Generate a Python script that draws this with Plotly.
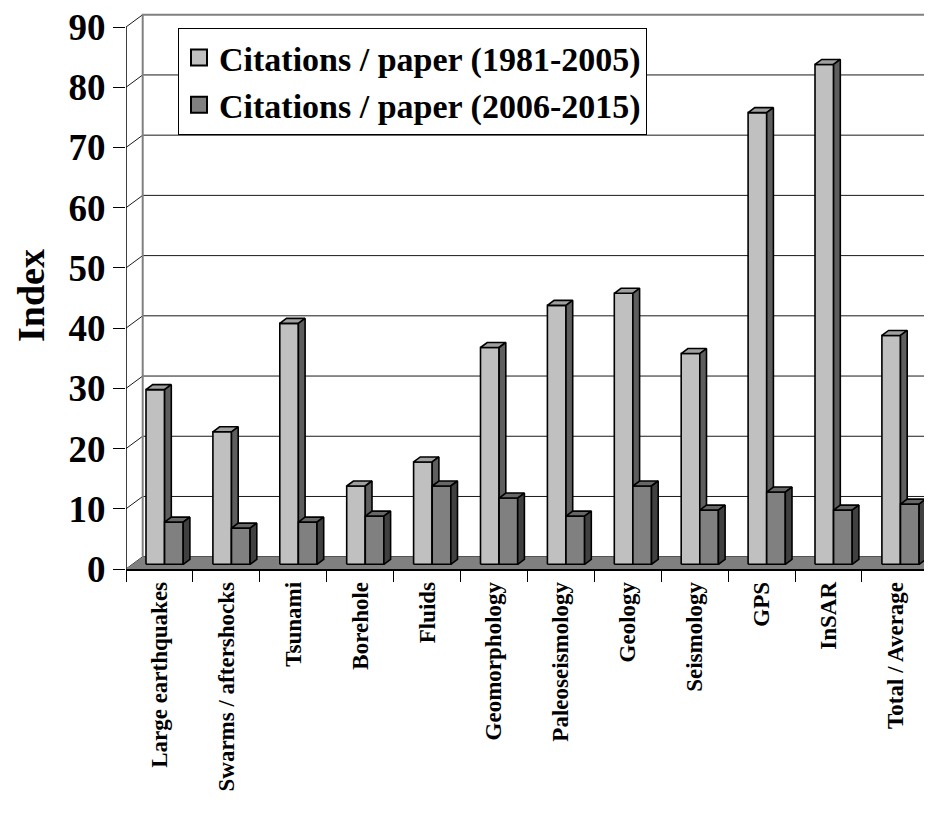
import plotly.graph_objects as go

categories = ["Large earthquakes", "Swarms / aftershocks", "Tsunami", "Borehole",
              "Fluids", "Geomorphology", "Paleoseismology", "Geology",
              "Seismology", "GPS", "InSAR", "Total / Average"]
cites_1981_2005 = [29, 22, 40, 13, 17, 36, 43, 45, 35, 75, 83, 38]
cites_2006_2015 = [7, 6, 7, 8, 13, 11, 8, 13, 9, 12, 9, 10]
series_names = ["Citations / paper (1981-2005)", "Citations / paper (2006-2015)"]
y_ticks = [0, 10, 20, 30, 40, 50, 60, 70, 80, 90]

# page body has an 8px margin; figure sized so page == window
OFF = 8
FIG_W, FIG_H = 932 - 2 * OFF, 821 - 2 * OFF
L = 126 - OFF                 # left edge of plot area (front axis)
T = 13 - OFF                  # top of plot area
BOT = 569 - OFF               # front floor line
PLOT_W = FIG_W - L
PLOT_H = BOT - T

# ---- geometry (pseudo-3D projection, in axis units) ----
PX_X = 66.9          # px per category
PX_Y = 6.022         # px per value unit
XMAX = PLOT_W / PX_X
YMAX = PLOT_H / PX_Y
WDX, WDY = 16.7 / PX_X, 12.3 / PX_Y      # back-wall depth offset
BDX, BDY = 6.7 / PX_X, 5.0 / PX_Y        # bar depth offset
BASE = 4.7 / PX_Y                        # bar front baseline
BAR_W = 18.6 / PX_X
LIGHT_OFF = 20.0 / PX_X

FONT = "Liberation Serif"

fig = go.Figure()

# back wall grid lines + diagonals on side wall
gx, gy = [], []
for v in y_ticks[:-1]:
    gx += [WDX, XMAX, None, 0, WDX, None]
    gy += [v + WDY, v + WDY, None, v, v + WDY, None]
gx += [0, WDX, None]
gy += [y_ticks[-1], y_ticks[-1] + WDY, None]
fig.add_trace(go.Scatter(x=gx, y=gy, mode="lines", line=dict(color="#1a1a1a", width=1),
                         hoverinfo="skip", showlegend=False))
# wall border (gray)
fig.add_trace(go.Scatter(x=[WDX, WDX, XMAX], y=[WDY, y_ticks[-1] + WDY, y_ticks[-1] + WDY],
                         mode="lines", line=dict(color="#808080", width=2),
                         hoverinfo="skip", showlegend=False))
# front vertical axis line
fig.add_trace(go.Scatter(x=[0, 0], y=[0, y_ticks[-1]], mode="lines",
                         line=dict(color="black", width=1.5), hoverinfo="skip", showlegend=False))
# floor
fig.add_trace(go.Scatter(x=[0, XMAX + 1, XMAX + 1 + WDX, WDX, 0],
                         y=[0, 0, WDY, WDY, 0], mode="lines", fill="toself",
                         fillcolor="#808080", line=dict(width=0, color="#808080"),
                         hoverinfo="skip", showlegend=False))


def bar_faces(values, offset):
    fx, fy, tx, ty, sx, sy = [], [], [], [], [], []
    for i, v in enumerate(values):
        x0 = i + offset
        x1 = x0 + BAR_W
        top = BASE + v
        fx += [x0, x1, x1, x0, x0, None]
        fy += [BASE, BASE, top, top, BASE, None]
        tx += [x0, x1, x1 + BDX, x0 + BDX, x0, None]
        ty += [top, top, top + BDY, top + BDY, top, None]
        sx += [x1, x1 + BDX, x1 + BDX, x1, x1, None]
        sy += [BASE, BASE + BDY, top + BDY, top, BASE, None]
    return (fx, fy), (tx, ty), (sx, sy)


series = [
    (cites_1981_2005, LIGHT_OFF, ["#C0C0C0", "#A0A0A0", "#5E5E5E"]),
    (cites_2006_2015, LIGHT_OFF + BAR_W, ["#808080", "#676767", "#404040"]),
]
for vals, off, cols in series:
    faces = bar_faces(vals, off)
    for (xs, ys), c in zip(faces, cols):
        fig.add_trace(go.Scatter(x=xs, y=ys, mode="lines", fill="toself", fillcolor=c,
                                 line=dict(color="black", width=1.6), hoverinfo="skip",
                                 showlegend=False))

# legend entries
for name, c in zip(series_names, ["#C0C0C0", "#808080"]):
    fig.add_trace(go.Scatter(x=[None], y=[None], mode="markers", name=name,
                             marker=dict(symbol="square", size=16, color=c,
                                         line=dict(color="black", width=2))))

fig.update_layout(
    width=FIG_W, height=FIG_H,
    margin=dict(l=L, r=0, t=T, b=FIG_H - BOT, autoexpand=False),
    paper_bgcolor="white", plot_bgcolor="white",
    font=dict(family=FONT, color="black"),
    showlegend=True,
    legend=dict(x=(178 - 126) / PLOT_W, y=(569 - 28) / PLOT_H, xanchor="left", yanchor="top",
                bgcolor="white", bordercolor="black", borderwidth=1,
                font=dict(family=FONT, size=34, color="black", weight="bold"),
                itemsizing="trace", tracegroupgap=0),
    xaxis=dict(range=[0, XMAX], showgrid=False, zeroline=False,
               showline=True, linecolor="black", linewidth=1.5,
               tickmode="array", tickvals=[i + 0.5 for i in range(len(categories))],
               ticktext=categories, tickangle=-90, ticks="outside", ticklen=2,
               tickcolor="rgba(0,0,0,0)",
               tickfont=dict(family=FONT, size=23, color="black", weight="bold"),
               minor=dict(tickmode="linear", tick0=0, dtick=1, ticks="outside",
                          ticklen=11, tickcolor="black", tickwidth=1, showgrid=False),
               fixedrange=True),
    yaxis=dict(range=[0, YMAX], showgrid=False, zeroline=False, showline=False,
               tickmode="array", tickvals=y_ticks, ticks="outside", ticklen=12,
               tickcolor="black", tickwidth=1, ticklabeloverflow="allow",
               tickfont=dict(family=FONT, size=37, color="black", weight="bold"),
               fixedrange=True),
    annotations=[dict(text="<b>Index</b>", xref="paper", yref="paper",
                      x=(31 - 126) / PLOT_W, y=(569 - 296) / PLOT_H, xanchor="center",
                      yanchor="middle", textangle=-90, showarrow=False,
                      font=dict(family=FONT, size=38, color="black"))],
)

fig.write_html("out.html")
